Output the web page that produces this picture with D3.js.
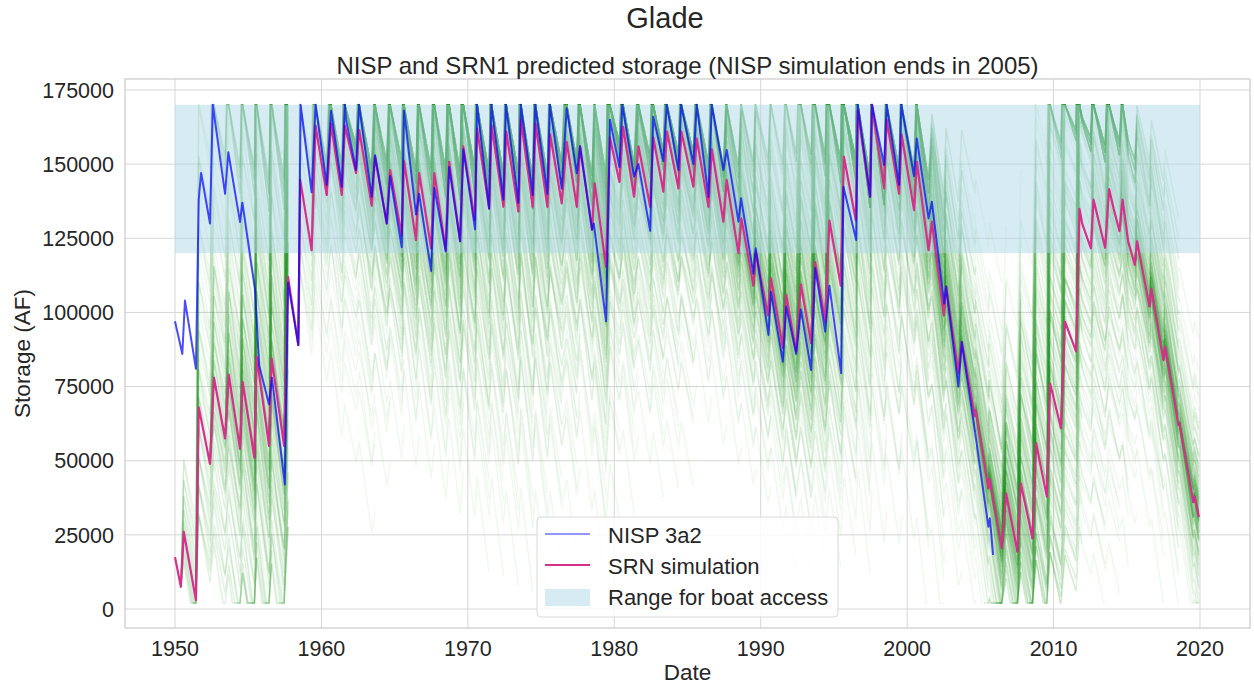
<!DOCTYPE html>
<html>
<head>
<meta charset="utf-8">
<title>Glade storage</title>
<script src="https://cdn.jsdelivr.net/npm/d3@7"></script>
<style>
  body { margin: 0; background: #fff; }
  text { font-family: "Liberation Sans", Arial, sans-serif; fill: #262626; }
</style>
</head>
<body>
<svg id="chart" width="1254" height="685"></svg>
<script>
// NISP 3a2 storage, key points [decimal year, AF]
var nispSeries = [
  [1950.00, 97000], [1950.50, 86000], [1950.68, 104000], [1951.43, 81000], [1951.62, 138000],
  [1951.78, 147000], [1952.39, 130000], [1952.58, 170000], [1953.42, 140000], [1953.64, 154000],
  [1954.44, 130500], [1954.60, 137000], [1955.46, 108000], [1955.75, 82000], [1956.42, 69000],
  [1956.62, 78000], [1957.50, 42000], [1957.72, 110000], [1958.42, 89000], [1958.58, 170000],
  [1959.33, 140500], [1959.60, 170000], [1960.36, 143000], [1960.65, 168000], [1961.39, 142400],
  [1961.60, 170000], [1961.68, 165000], [1962.36, 148000], [1962.57, 170000], [1963.43, 139000],
  [1963.66, 153000], [1964.46, 130000], [1964.69, 146000], [1965.48, 122000], [1965.64, 168000],
  [1966.46, 133000], [1966.67, 140000], [1967.49, 114000], [1967.71, 142000], [1968.49, 120500],
  [1968.72, 149000], [1969.47, 124000], [1969.69, 155000], [1970.49, 128000], [1970.63, 170000],
  [1971.45, 135000], [1971.60, 170000], [1972.43, 138000], [1972.60, 170000], [1973.45, 137000],
  [1973.62, 170000], [1974.43, 139600], [1974.60, 170000], [1975.43, 140000], [1975.60, 170000],
  [1976.41, 141800], [1976.75, 168800], [1977.44, 146900], [1977.66, 156000], [1978.48, 128000],
  [1978.60, 130000], [1979.44, 97000], [1979.71, 165000], [1980.35, 149000], [1980.55, 170000],
  [1981.35, 145800], [1981.65, 150000], [1982.45, 127500], [1982.66, 166000], [1983.35, 151000],
  [1983.58, 170000], [1984.38, 148000], [1984.56, 170000], [1985.40, 150000], [1985.63, 170000],
  [1986.43, 139000], [1986.66, 170000], [1987.45, 148000], [1987.68, 154800], [1988.48, 130600],
  [1988.66, 138500], [1989.50, 113000], [1989.66, 121600], [1990.53, 92400], [1990.70, 107000],
  [1991.51, 83400], [1991.74, 102000], [1992.42, 86000], [1992.74, 101000], [1993.44, 80600],
  [1993.72, 115000], [1994.40, 93500], [1994.69, 109000], [1995.49, 79500], [1995.65, 142400],
  [1996.52, 124400], [1996.63, 170000], [1997.47, 139000], [1997.60, 170000], [1998.43, 149700],
  [1998.60, 170000], [1999.45, 143000], [1999.60, 170000], [2000.47, 146000], [2000.66, 158600],
  [2001.46, 131700], [2001.69, 137300], [2002.53, 103000], [2002.66, 108700], [2003.50, 75000],
  [2003.73, 90000], [2004.60, 61000], [2005.55, 27700], [2005.65, 30600], [2005.87, 18200]
];

// SRN simulation storage, key points [decimal year, AF]
var srnSeries = [
  [1950.00, 17500], [1950.40, 7500], [1950.60, 26000], [1951.43, 3000], [1951.62, 68000],
  [1952.39, 49000], [1952.66, 78000], [1953.42, 57500], [1953.67, 79000], [1954.44, 54000],
  [1954.62, 76600], [1955.42, 51000], [1955.58, 85000], [1956.42, 55000], [1956.60, 84500],
  [1957.45, 55000], [1957.72, 112000], [1958.42, 89000], [1958.55, 144600], [1959.33, 121000],
  [1959.60, 163000], [1960.36, 139600], [1960.65, 163700], [1961.39, 139600], [1961.60, 163000],
  [1962.36, 147000], [1962.58, 161500], [1963.43, 136000], [1963.66, 152500], [1964.46, 130000],
  [1964.69, 148000], [1965.48, 126000], [1965.64, 151000], [1966.46, 124400], [1966.67, 147000],
  [1967.49, 121600], [1967.71, 147000], [1968.49, 121000], [1968.72, 150800], [1969.47, 124000],
  [1969.69, 156000], [1970.47, 131000], [1970.63, 162000], [1971.45, 135000], [1971.62, 163000],
  [1972.43, 135600], [1972.62, 161000], [1973.45, 134000], [1973.62, 165000], [1974.43, 135600],
  [1974.62, 163700], [1975.43, 135600], [1975.62, 160000], [1976.41, 136800], [1976.75, 157500],
  [1977.44, 135600], [1977.66, 156000], [1978.48, 127800], [1978.66, 143500], [1979.44, 115400],
  [1979.70, 159000], [1980.35, 144000], [1980.60, 162600], [1981.35, 139000], [1981.65, 156000],
  [1982.45, 135600], [1982.66, 159000], [1983.35, 140700], [1983.60, 161000], [1984.38, 141800],
  [1984.58, 161000], [1985.40, 142400], [1985.63, 158600], [1986.43, 135600], [1986.66, 155000],
  [1987.45, 130600], [1987.68, 144600], [1988.48, 120000], [1988.68, 131700], [1989.50, 109000],
  [1989.66, 120500], [1990.50, 99000], [1990.70, 111500], [1991.51, 88000], [1991.74, 106000],
  [1992.42, 86800], [1992.74, 109500], [1993.44, 89600], [1993.72, 117000], [1994.40, 96900],
  [1994.69, 131000], [1995.47, 109000], [1995.68, 152500], [1996.50, 131000], [1996.63, 168000],
  [1997.47, 139000], [1997.60, 170000], [1998.43, 141800], [1998.60, 165000], [1999.45, 140000],
  [1999.62, 160000], [2000.47, 134500], [2000.66, 150800], [2001.46, 121000], [2001.69, 130600],
  [2002.50, 99000], [2002.66, 108700], [2003.50, 79500], [2003.73, 90000], [2004.62, 65000],
  [2004.68, 67000], [2005.55, 40700], [2005.62, 44000], [2006.46, 20500], [2006.76, 39000],
  [2007.53, 19300], [2007.76, 42400], [2008.56, 23800], [2008.81, 55900], [2009.54, 37900],
  [2009.76, 76000], [2010.51, 61000], [2010.78, 96900], [2011.54, 86800], [2011.77, 134900],
  [2011.95, 130000], [2012.55, 121600], [2012.73, 138000], [2013.52, 121800], [2013.79, 141600],
  [2014.10, 135000], [2014.50, 127400], [2014.71, 138000], [2015.10, 123800], [2015.55, 116000],
  [2015.70, 124000], [2016.55, 102000], [2016.68, 108000], [2017.50, 84000], [2017.62, 88400],
  [2018.53, 62000], [2018.60, 62500], [2019.54, 36000], [2019.62, 38000], [2019.92, 31000]
];

// boat access range and reservoir limits
var boatRange = [120000, 170000];
var boatYears = [1950, 2020];
var storageLimits = [2000, 170000];

// ensemble traces: inflow / release scaling per trace, run length, restart year
var ensembleInflowFactors = [0.45, 0.6, 0.75, 0.9, 1.05, 1.2, 1.4, 1.65, 1.95, 2.3];
var ensembleReleaseFactors = [0.85, 1.0, 1.2];
var ensembleYears = 6;
var ensembleRestart = 1958.4;

var xTicks = [1950, 1960, 1970, 1980, 1990, 2000, 2010, 2020];
var yTicks = [0, 25000, 50000, 75000, 100000, 125000, 150000, 175000];

var svg = d3.select("#chart");
var plotLeft = 125, plotRight = 1250, plotTop = 79, plotBottom = 628;

var x = d3.scaleLinear().domain([1946.585, 2023.415]).range([plotLeft, plotRight]);
var y = d3.scaleLinear().domain([-6400, 178700]).range([plotBottom, plotTop]);

svg.append("defs").append("clipPath").attr("id", "plotclip")
  .append("rect").attr("x", plotLeft).attr("y", plotTop)
  .attr("width", plotRight - plotLeft).attr("height", plotBottom - plotTop);

// grid
var grid = svg.append("g");
grid.selectAll(".vg").data(xTicks).enter().append("line")
  .attr("x1", d => x(d)).attr("x2", d => x(d))
  .attr("y1", plotTop).attr("y2", plotBottom)
  .attr("stroke", "#d6d6d6").attr("stroke-width", 1);
grid.selectAll(".hg").data(yTicks).enter().append("line")
  .attr("x1", plotLeft).attr("x2", plotRight)
  .attr("y1", d => y(d)).attr("y2", d => y(d))
  .attr("stroke", "#d6d6d6").attr("stroke-width", 1);

var plot = svg.append("g").attr("clip-path", "url(#plotclip)");
var line = d3.line().x(d => x(d[0])).y(d => y(d[1]));

// run one trace from an SRN low point, scaling the rises and falls, clamped to the limits
function runTrace(i0, fin, fout) {
  var v = srnSeries[i0][1];
  var pts = [[srnSeries[i0][0], v]];
  var tEnd = srnSeries[i0][0] + ensembleYears;
  if (srnSeries[i0][0] < ensembleRestart) tEnd = Math.min(tEnd, ensembleRestart);
  for (var j = i0; j < srnSeries.length - 1 && srnSeries[j + 1][0] <= tEnd; j++) {
    var t0 = srnSeries[j][0], t1 = srnSeries[j + 1][0];
    var d = srnSeries[j + 1][1] - srnSeries[j][1];
    d *= d > 0 ? fin : fout;
    var nv = v + d;
    var lim = nv > storageLimits[1] ? storageLimits[1] : (nv < storageLimits[0] ? storageLimits[0] : null);
    if (lim !== null) {
      if (lim !== v && d !== 0) pts.push([t0 + (t1 - t0) * (lim - v) / d, lim]);
      nv = lim;
    }
    pts.push([t1, nv]);
    v = nv;
  }
  return pts;
}

var traces = [];
srnSeries.forEach(function(p, i) {
  if (i < srnSeries.length - 1 && srnSeries[i + 1][1] > p[1] && (i === 0 || srnSeries[i - 1][1] >= p[1])) {
    ensembleInflowFactors.forEach(function(fin) {
      ensembleReleaseFactors.forEach(function(fout) { traces.push(runTrace(i, fin, fout)); });
    });
  }
});

plot.append("g").selectAll("path").data(traces).enter().append("path")
  .attr("d", line)
  .attr("fill", "none")
  .attr("stroke", "#1f8f1f")
  .attr("stroke-opacity", 0.065)
  .attr("stroke-width", 1.5);

// boat access band
plot.append("rect")
  .attr("x", x(boatYears[0])).attr("width", x(boatYears[1]) - x(boatYears[0]))
  .attr("y", y(boatRange[1])).attr("height", y(boatRange[0]) - y(boatRange[1]))
  .attr("fill", "#add8e6").attr("fill-opacity", 0.5);

plot.append("path").datum(srnSeries)
  .attr("d", line).attr("fill", "none")
  .attr("stroke", "#d62f8c").attr("stroke-width", 2.2)
  .attr("stroke-linejoin", "round");

plot.append("path").datum(nispSeries)
  .attr("d", line).attr("fill", "none")
  .attr("stroke", "#0000ff").attr("stroke-opacity", 0.7).attr("stroke-width", 2)
  .attr("stroke-linejoin", "round");

// frame
svg.append("rect").attr("x", plotLeft).attr("y", plotTop)
  .attr("width", plotRight - plotLeft).attr("height", plotBottom - plotTop)
  .attr("fill", "none").attr("stroke", "#cccccc").attr("stroke-width", 1.25);

// tick labels
svg.append("g").selectAll("text").data(xTicks).enter().append("text")
  .attr("x", d => x(d)).attr("y", 656)
  .attr("text-anchor", "middle").attr("font-size", "21.5px")
  .text(d => d);
svg.append("g").selectAll("text").data(yTicks).enter().append("text")
  .attr("x", 114).attr("y", d => y(d)).attr("dy", "0.36em")
  .attr("text-anchor", "end").attr("font-size", "21.5px")
  .text(d => d);

// axis labels and titles
svg.append("text").attr("x", (plotLeft + plotRight) / 2).attr("y", 680)
  .attr("text-anchor", "middle").attr("font-size", "22.5px").text("Date");
svg.append("text").attr("transform", "translate(30," + ((plotTop + plotBottom) / 2) + ") rotate(-90)")
  .attr("text-anchor", "middle").attr("font-size", "22.5px").text("Storage (AF)");
svg.append("text").attr("x", (plotLeft + plotRight) / 2).attr("y", 74)
  .attr("text-anchor", "middle").attr("font-size", "24px")
  .text("NISP and SRN1 predicted storage (NISP simulation ends in 2005)");
svg.append("text").attr("x", 665).attr("y", 28)
  .attr("text-anchor", "middle").attr("font-size", "29px").text("Glade");

// legend
var lg = svg.append("g").attr("transform", "translate(537,517)");
lg.append("rect").attr("width", 301).attr("height", 100).attr("rx", 4)
  .attr("fill", "#ffffff").attr("fill-opacity", 0.8)
  .attr("stroke", "#d8d8d8").attr("stroke-width", 1);
lg.append("line").attr("x1", 8).attr("x2", 53).attr("y1", 17).attr("y2", 17)
  .attr("stroke", "#0000ff").attr("stroke-opacity", 0.55).attr("stroke-width", 1.6);
lg.append("line").attr("x1", 8).attr("x2", 53).attr("y1", 48).attr("y2", 48)
  .attr("stroke", "#d62f8c").attr("stroke-width", 1.8);
lg.append("rect").attr("x", 8).attr("y", 72).attr("width", 45).attr("height", 17)
  .attr("fill", "#add8e6").attr("fill-opacity", 0.5);
var legendLabels = ["NISP 3a2", "SRN simulation", "Range for boat access"];
lg.selectAll(".lt").data(legendLabels).enter().append("text")
  .attr("x", 71).attr("y", (d, i) => 25.5 + i * 31)
  .attr("font-size", "22px").text(d => d);
</script>
</body>
</html>
